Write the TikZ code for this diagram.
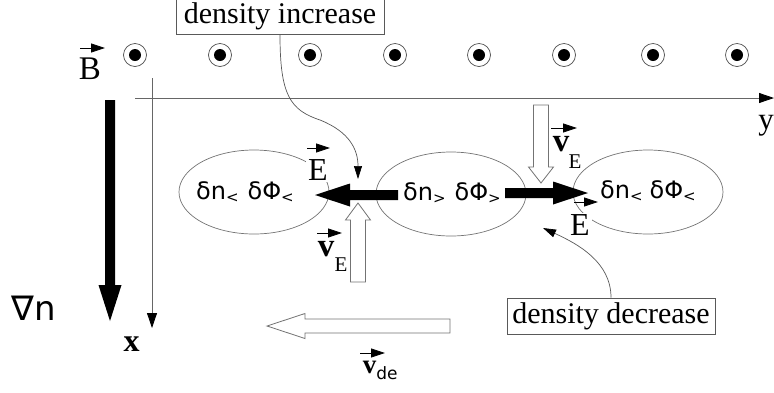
\documentclass[tikz,border=0pt]{standalone}
\usepackage{fontspec}
\setmainfont{Liberation Serif}
\newfontfamily\dvs{DejaVu Sans}
\usetikzlibrary{arrows.meta,calc,shapes.geometric}
\newcommand\lowsub[1]{\raisebox{-3pt}{\fontsize{15}{16}\selectfont #1}}
\begin{document}
\begin{tikzpicture}[x=1pt,y=-1pt,
  serif/.style={inner sep=0pt,font=\fontsize{32}{38}\selectfont},
  vlbl/.style={inner sep=0pt,font=\bfseries\fontsize{33}{38}\selectfont},
  sublbl/.style={inner sep=0pt,font=\fontsize{21}{24}\selectfont},
  greek/.style={inner sep=0pt,anchor=base west,font=\dvs\fontsize{24}{28}\selectfont},
  boxlbl/.style={draw=black!65,line width=0.8pt,fill=white,inner sep=0pt,
     minimum width=208pt,minimum height=36pt,font=\fontsize{30}{36}\selectfont},
  ell/.style={ellipse,draw=black!55,line width=0.7pt,minimum width=150pt,minimum height=84pt,inner sep=0pt},
  axis/.style={draw=black!60,line width=0.8pt,-{Triangle[length=15pt,width=10pt,color=black]}},
  conn/.style={draw=black!65,line width=0.7pt,-{Triangle[length=13pt,width=8pt,color=black]}},
  vec/.style={draw=black,line width=0.8pt,-{Triangle[length=14pt,width=9pt]}},
  hollow/.style={draw=black!55,line width=0.8pt,fill=white,line join=miter},
  solid/.style={fill=black}]
\useasboundingbox (0,0) rectangle (774,392);

% B field dots
\foreach \x in {135,220,310,395,479,564,653,737}{
  \draw[black!70,line width=0.7pt] (\x,55) circle[radius=11.5pt];
  \fill (\x,55) circle[radius=6pt];
}
\node[serif,font=\fontsize{33}{38}\selectfont] (B) at (90,69) {B};
\draw[vec] (80,48) -- (105,48);

% axes
\coordinate (yo) at (135,98);
\coordinate (ye) at (774,98);
\draw[axis] (yo) -- (ye);
\node[serif,font=\fontsize{31}{36}\selectfont] (ylab) at (766,125.5) {y};
\coordinate (xo) at (152,78);
\coordinate (xe) at (152,328);
\draw[axis] (xo) -- (xe);
\node[inner sep=0pt,font=\bfseries\fontsize{32}{36}\selectfont] (xlab) at (131.5,344.5) {x};

% grad n
\fill[solid] (105,100) -- (105,285) -- (98.5,285) -- (110,321) -- (121.5,285) -- (115,285) -- (115,100) -- cycle;
\node[inner sep=0pt,font=\dvs\fontsize{34}{40}\selectfont] (gradn) at (34,308) {∇n};

% ellipses
\node[ell] (eL) at (254,192) {};
\node[ell] (eM) at (451,194) {};
\node[ell] (eR) at (648,192) {};
\node[greek] (tL) at (196,199) {δn\lowsub{<}\hspace{9pt}δΦ\lowsub{<}};
\node[greek] (tM) at (403,200) {δn\lowsub{>}\hspace{9pt}δΦ\lowsub{>}};
\node[greek] (tR) at (600,198) {δn\lowsub{<}\hspace{7pt}δΦ\lowsub{<}};

% E field labels (cover ellipse lines)
\node[serif,fill=white,inner sep=2pt] (EL) at (318,170) {E};
\draw[vec] (307,148) -- (330,148);
\node[serif,fill=white,inner sep=2pt] (ER) at (580,225) {E};
\draw[vec] (574,202) -- (598,202);

% thick black arrows (E x B)
\fill[solid] (398,190) -- (350,190) -- (350,183.5) -- (315,195) -- (350,206.5) -- (350,200) -- (398,200) -- cycle;
\fill[solid] (505,188) -- (553,188) -- (553,181.5) -- (588,193) -- (553,204.5) -- (553,198) -- (505,198) -- cycle;

% hollow arrows
\draw[hollow] (350.5,282) -- (350.5,220) -- (345.5,220) -- (358,203) -- (370.5,220) -- (365.5,220) -- (365.5,282) -- cycle;
\draw[hollow] (533.5,105) -- (533.5,167) -- (528.5,167) -- (541,183) -- (553.5,167) -- (548.5,167) -- (548.5,105) -- cycle;
\draw[hollow] (450,319) -- (305,319) -- (305,313.5) -- (267,326) -- (305,338.5) -- (305,333) -- (450,333) -- cycle;

% v_E labels
\node[vlbl] (vL) at (326,249.5) {v};
\node[sublbl] (vLs) at (341,265) {E};
\draw[vec] (317,233) -- (342,233);
\node[vlbl] (vR) at (561,144) {v};
\node[sublbl] (vRs) at (575,162) {E};
\draw[vec] (551,128) -- (577,128);
\node[vlbl,font=\bfseries\fontsize{27}{32}\selectfont] (vd) at (369.5,367.5) {v};
\node[inner sep=0pt,font=\dvs\fontsize{17}{20}\selectfont] (vds) at (387,373) {de};
\draw[vec] (360,353) -- (385,353);

% density boxes and pointers
\node[boxlbl] (DI) at (280,16.5) {density increase};
\coordinate (ti) at (358,179);
\draw[conn] (DI.south) .. controls (280,95) and (290,110) .. (320,120) .. controls (350,132) and (358,150) .. (ti);
\node[boxlbl] (DD) at (611,316) {density decrease};
\coordinate (td) at (543,228);
\draw[conn] (DD.north) .. controls (611,262) and (578,244) .. (td);
\end{tikzpicture}
\end{document}
